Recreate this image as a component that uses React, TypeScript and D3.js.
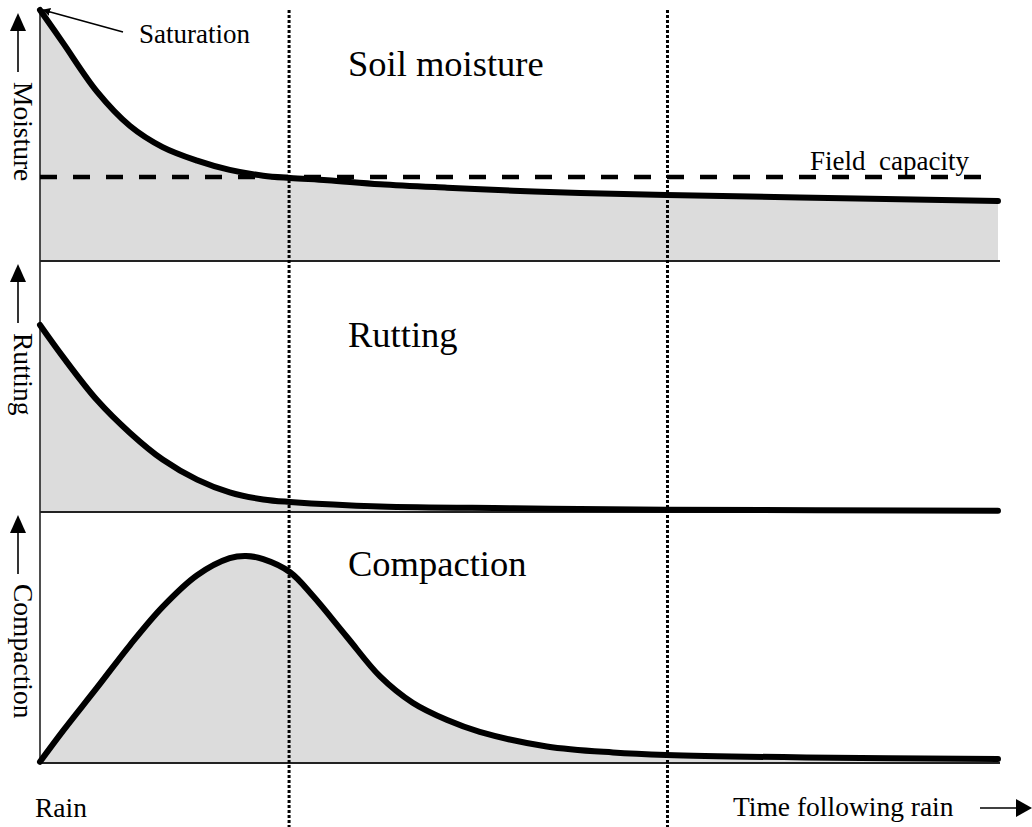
import * as d3 from 'd3'

// [time, level], time 0..100, level 0..100 per panel
const moisture: [number, number][] = [
  [0, 100], [2.4, 86.9], [5.95, 67.5], [9.4, 53.8], [12.8, 45.4], [16.4, 40.0],
  [19.8, 36.3], [23.3, 34.0], [26.1, 33.1], [30, 32.2], [35.5, 30.6], [42.5, 29.2],
  [49.4, 28.0], [56.4, 27.1], [65.4, 26.3], [79.3, 25.3], [100, 23.9],
]
const rutting: [number, number][] = [
  [0, 74.5], [2.4, 61.8], [5.95, 44.6], [9.4, 31.5], [12.8, 20.9], [16.4, 12.9],
  [19.8, 7.8], [23.3, 5.0], [26.1, 4.0], [35.5, 2.2], [49.4, 1.5], [65.4, 0.9], [100, 0.5],
]
const compaction: [number, number][] = [
  [0, 0.5], [2.4, 12.8], [5.95, 30.0], [9.4, 47.0], [12.8, 62.2], [16.4, 74.8],
  [19.8, 81.6], [21.5, 82.5], [23.3, 81.2], [26.1, 76.0], [28.5, 66.5], [32.0, 50.4],
  [35.5, 34.5], [38.9, 24.0], [42.5, 17.1], [45.9, 12.4], [52.9, 6.6], [59.8, 4.2],
  [65.4, 3.2], [80, 2.2], [100, 1.6],
]
const series = [moisture, rutting, compaction]
const panelTitles = ['Soil moisture', 'Rutting', 'Compaction']
const axisLabels = ['Moisture', 'Rutting', 'Compaction']
const titleOffsets = [66, 86, 64]
const fieldCapacity = 33.5
const phaseBreaks = [26, 65.5]

const left = 40
const right = 998
const top = 10
const panelH = 251
const serif = '"Liberation Serif", "Times New Roman", serif'

export default function App() {
  const x = d3.scaleLinear().domain([0, 100]).range([left, right])
  const curve = d3.curveCatmullRom.alpha(0.5)

  return (
    <svg width={1032} height={827} style={{ position: 'absolute', left: 0, top: 0, background: '#fff' }}
      fontFamily={serif}>
      <defs>
        <marker id="tip" viewBox="0 0 10 10" refX="9" refY="5" markerWidth="5" markerHeight="5"
          markerUnits="strokeWidth" orient="auto">
          <path d="M0,0 L10,5 L0,10 Z" fill="#000" />
        </marker>
      </defs>

      {series.map((data, i) => {
        const y0 = top + panelH * i
        const y = d3.scaleLinear().domain([0, 100]).range([y0 + panelH, y0])
        const area = d3.area<[number, number]>()
          .x(d => x(d[0])).y0(y(0)).y1(d => y(d[1]))
          .curve(curve)
        const line = d3.line<[number, number]>()
          .x(d => x(d[0])).y(d => y(d[1]))
          .curve(curve)
        return (
          <g key={i}>
            <path d={area(data) || ''} fill="#dcdcdc" />
            <line x1={left} x2={right + 2} y1={y(0)} y2={y(0)} stroke="#222" strokeWidth={2} />
            <line x1={left} x2={left} y1={y0} y2={y(0)} stroke="#222" strokeWidth={1.6} />
            {i === 0 && (
              <line x1={left} x2={x(98.9)} y1={y(fieldCapacity)} y2={y(fieldCapacity)}
                stroke="#000" strokeWidth={4.5} strokeDasharray="17,16" />
            )}
            <path d={line(data) || ''} fill="none" stroke="#000" strokeWidth={6}
              strokeLinecap="round" strokeLinejoin="round" />
            <text x={348} y={y0 + titleOffsets[i]} fontSize={36.5}>{panelTitles[i]}</text>
            {/* vertical axis label with upward arrow */}
            <line x1={18} x2={18} y1={y0 + 18} y2={y0 + 62} stroke="#000" strokeWidth={1.6} />
            <path d={`M18,${y0 + 3} L26,${y0 + 21} L10,${y0 + 21} Z`} fill="#000" />
            <text transform={`translate(14,${y0 + 72}) rotate(90)`} fontSize={27.5}>{axisLabels[i]}</text>
          </g>
        )
      })}

      {phaseBreaks.map(t => (
        <line key={t} x1={x(t)} x2={x(t)} y1={top} y2={827} stroke="#000" strokeWidth={3}
          strokeDasharray="3,2" />
      ))}

      <text x={810} y={170} fontSize={27}>Field{'\u00a0\u00a0'}capacity</text>
      <text x={139} y={43} fontSize={27}>Saturation</text>
      <line x1={123} y1={32} x2={43} y2={10} stroke="#000" strokeWidth={1.6} markerEnd="url(#tip)" />

      <text x={35} y={817} fontSize={27.5}>Rain</text>
      <text x={733} y={816} fontSize={27.5}>Time following rain</text>
      <line x1={980} x2={1018} y1={808} y2={808} stroke="#000" strokeWidth={1.6} />
      <path d="M1032,808 L1016,799 L1016,817 Z" fill="#000" />
    </svg>
  )
}
